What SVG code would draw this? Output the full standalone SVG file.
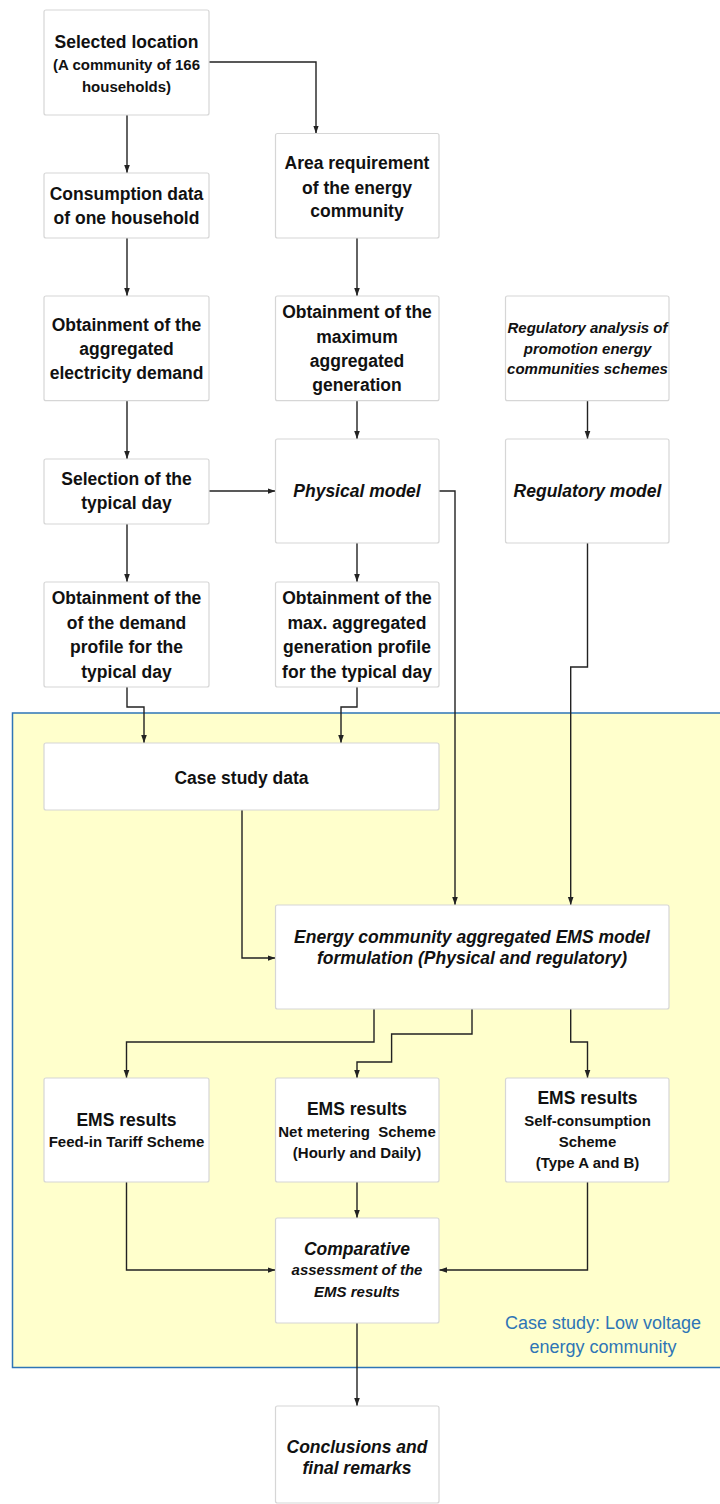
<svg xmlns="http://www.w3.org/2000/svg" width="720" height="1504" viewBox="0 0 720 1504">
<style>
.box{fill:#ffffff;stroke:#d6d6d6;stroke-width:1.2}
.t{font-family:"Liberation Sans",Arial,sans-serif;font-weight:bold;font-size:17.5px;fill:#111;text-anchor:middle}
.s{font-size:15px}
.i{font-style:italic}
.lbl{font-family:"Liberation Sans",Arial,sans-serif;font-size:18px;fill:#2E75B6;text-anchor:middle}
.c{fill:none;stroke:#222;stroke-width:1.4}
</style>
<defs>
<marker id="ah" markerUnits="userSpaceOnUse" markerWidth="8" markerHeight="8" viewBox="0 0 8 8" refX="8" refY="4" orient="auto">
<path d="M0,1.2 L8,4 L0,6.8 Z" fill="#222"/>
</marker>
</defs>
<rect width="720" height="1504" fill="#ffffff"/>
<g id="region">
<rect x="12.5" y="713" width="720" height="654.5" fill="#FFFFCC" stroke="#2E75B6" stroke-width="1.5"/>
<text class="lbl" x="603" y="1329">Case study: Low voltage</text>
<text class="lbl" x="603" y="1353">energy community</text>
</g>
<g id="connectors">
<path class="c" marker-end="url(#ah)" d="M127,115 V173"/>
<path class="c" marker-end="url(#ah)" d="M209,62 H316 V133.5"/>
<path class="c" marker-end="url(#ah)" d="M127,238 V296"/>
<path class="c" marker-end="url(#ah)" d="M357,238 V296"/>
<path class="c" marker-end="url(#ah)" d="M127,400.7 V459"/>
<path class="c" marker-end="url(#ah)" d="M357,400.7 V439"/>
<path class="c" marker-end="url(#ah)" d="M587.5,400.7 V439"/>
<path class="c" marker-end="url(#ah)" d="M209,491 H275.5"/>
<path class="c" marker-end="url(#ah)" d="M439,491 H455 V905"/>
<path class="c" marker-end="url(#ah)" d="M587.5,543 V667 H570.7 V905"/>
<path class="c" marker-end="url(#ah)" d="M127,524 V582"/>
<path class="c" marker-end="url(#ah)" d="M357,543 V582"/>
<path class="c" marker-end="url(#ah)" d="M127,687 V707 H144 V743"/>
<path class="c" marker-end="url(#ah)" d="M357,687 V707 H341 V743"/>
<path class="c" marker-end="url(#ah)" d="M242,810 V958 H275.5"/>
<path class="c" marker-end="url(#ah)" d="M374,1009 V1042 H126.5 V1078"/>
<path class="c" marker-end="url(#ah)" d="M472,1009 V1034 H391.6 V1062 H357 V1078"/>
<path class="c" marker-end="url(#ah)" d="M570.7,1009 V1042 H587.5 V1078"/>
<path class="c" marker-end="url(#ah)" d="M126.5,1182 V1270 H275.5"/>
<path class="c" marker-end="url(#ah)" d="M357,1182 V1218"/>
<path class="c" marker-end="url(#ah)" d="M587.5,1182 V1270 H439"/>
<path class="c" marker-end="url(#ah)" d="M357,1323 V1406"/>
</g>
<g id="n-selected-location">
<rect class="box" x="44" y="10" width="165" height="105" rx="2"/>
<text class="t" x="126.5" y="48">Selected location</text>
<text class="t s" x="126.5" y="69.5">(A community of 166</text>
<text class="t s" x="126.5" y="91.5">households)</text>
</g>
<g id="n-consumption">
<rect class="box" x="44" y="173" width="165" height="65" rx="2"/>
<text class="t" x="126.5" y="200">Consumption data</text>
<text class="t" x="126.5" y="224">of one household</text>
</g>
<g id="n-area">
<rect class="box" x="275.5" y="133.5" width="163.5" height="104.5" rx="2"/>
<text class="t" x="357" y="169">Area requirement</text>
<text class="t" x="357" y="194">of the energy</text>
<text class="t" x="357" y="217">community</text>
</g>
<g id="n-agg-demand">
<rect class="box" x="44" y="296" width="165" height="104.7" rx="2"/>
<text class="t" x="126.5" y="331">Obtainment of the</text>
<text class="t" x="126.5" y="355">aggregated</text>
<text class="t" x="126.5" y="378.7">electricity demand</text>
</g>
<g id="n-max-gen">
<rect class="box" x="275.5" y="296" width="163.5" height="104.7" rx="2"/>
<text class="t" x="357" y="318">Obtainment of the</text>
<text class="t" x="357" y="342.7">maximum</text>
<text class="t" x="357" y="366.7">aggregated</text>
<text class="t" x="357" y="391">generation</text>
</g>
<g id="n-reg-analysis">
<rect class="box" x="505.5" y="296" width="163.5" height="104.7" rx="2"/>
<text class="t s i" x="587.5" y="333">Regulatory analysis of</text>
<text class="t s i" x="587.5" y="354">promotion energy</text>
<text class="t s i" x="587.5" y="374">communities schemes</text>
</g>
<g id="n-typical-day">
<rect class="box" x="44" y="459" width="165" height="65" rx="2"/>
<text class="t" x="126.5" y="485">Selection of the</text>
<text class="t" x="126.5" y="509">typical day</text>
</g>
<g id="n-physical">
<rect class="box" x="275.5" y="439" width="163.5" height="104" rx="2"/>
<text class="t i" x="357" y="497">Physical model</text>
</g>
<g id="n-regulatory">
<rect class="box" x="505.5" y="439" width="163.5" height="104" rx="2"/>
<text class="t i" x="587.5" y="497">Regulatory model</text>
</g>
<g id="n-demand-profile">
<rect class="box" x="44" y="582" width="165" height="105" rx="2"/>
<text class="t" x="126.5" y="604">Obtainment of the</text>
<text class="t" x="126.5" y="628.7">of the demand</text>
<text class="t" x="126.5" y="653">profile for the</text>
<text class="t" x="126.5" y="677.7">typical day</text>
</g>
<g id="n-gen-profile">
<rect class="box" x="275.5" y="582" width="163.5" height="105" rx="2"/>
<text class="t" x="357" y="604">Obtainment of the</text>
<text class="t" x="357" y="628.7">max. aggregated</text>
<text class="t" x="357" y="653">generation profile</text>
<text class="t" x="357" y="677.7">for the typical day</text>
</g>
<g id="n-case-data">
<rect class="box" x="44" y="743" width="395" height="67" rx="2"/>
<text class="t" x="241.5" y="784">Case study data</text>
</g>
<g id="n-ems-model">
<rect class="box" x="275.5" y="905" width="393.5" height="104" rx="2"/>
<text class="t i" x="472" y="943">Energy community aggregated EMS model</text>
<text class="t i" x="472" y="964">formulation (Physical and regulatory)</text>
</g>
<g id="n-fit">
<rect class="box" x="44" y="1078" width="165" height="104" rx="2"/>
<text class="t" x="126.5" y="1126">EMS results</text>
<text class="t s" x="126.5" y="1147">Feed-in Tariff Scheme</text>
</g>
<g id="n-net">
<rect class="box" x="275.5" y="1078" width="163.5" height="104" rx="2"/>
<text class="t" x="357" y="1115">EMS results</text>
<text class="t s" x="357" y="1137" xml:space="preserve">Net metering  Scheme</text>
<text class="t s" x="357" y="1158">(Hourly and Daily)</text>
</g>
<g id="n-self">
<rect class="box" x="505.5" y="1078" width="163.5" height="104" rx="2"/>
<text class="t" x="587.5" y="1104">EMS results</text>
<text class="t s" x="587.5" y="1126">Self-consumption</text>
<text class="t s" x="587.5" y="1147">Scheme</text>
<text class="t s" x="587.5" y="1168">(Type A and B)</text>
</g>
<g id="n-comparative">
<rect class="box" x="275.5" y="1218" width="163.5" height="105" rx="2"/>
<text class="t i" x="357" y="1255">Comparative</text>
<text class="t s i" x="357" y="1275">assessment of the</text>
<text class="t s i" x="357" y="1297">EMS results</text>
</g>
<g id="n-conclusions">
<rect class="box" x="275.5" y="1406" width="163.5" height="97" rx="2"/>
<text class="t i" x="357" y="1453">Conclusions and</text>
<text class="t i" x="357" y="1474">final remarks</text>
</g>
</svg>
